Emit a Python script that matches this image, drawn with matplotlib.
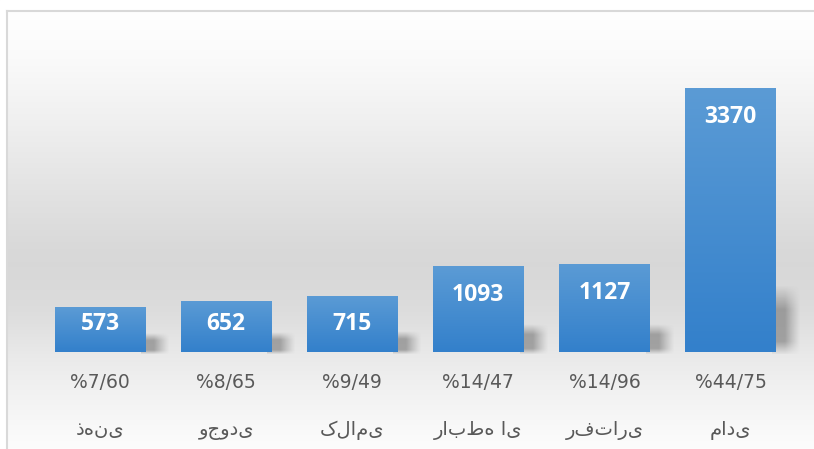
import numpy as np
import matplotlib
matplotlib.use("Agg")
import matplotlib.pyplot as plt
from matplotlib.patches import Rectangle

# ---- data ----
categories = ["ذهنی", "وجودی", "کلامی", "رابطه ای", "رفتاری", "مادی"]
percent_labels = ["%7/60", "%8/65", "%9/49", "%14/47", "%14/96", "%44/75"]
values = [573, 652, 715, 1093, 1127, 3370]

W, H = 814, 449
DPI = 100
fig = plt.figure(figsize=(W / DPI, H / DPI), dpi=DPI)

# ---- background gradient (whole figure) ----
bg = fig.add_axes([0, 0, 1, 1], zorder=0)
bg.set_xlim(0, W)
bg.set_ylim(H, 0)
bg.axis("off")
ys = np.arange(H)
stops_y = [0, 10, 60, 120, 200, 260, 310, 360, 449]
stops_v = [255, 255, 250, 240, 225, 215, 220, 235, 253]
col = np.interp(ys, stops_y, stops_v)
k = np.ones(31) / 31
col = np.convolve(np.pad(col, 15, mode="edge"), k, mode="valid") / 255.0
grad = np.repeat(col[:, None], 2, axis=1)
bg.imshow(np.dstack([grad, grad, grad]), extent=[0, W, H, 0], aspect="auto",
          interpolation="bilinear")
# white outside the frame
bg.add_patch(Rectangle((0, 0), W, 10, color="white", zorder=2))
bg.add_patch(Rectangle((0, 0), 6, H, color="white", zorder=2))
bg.plot([6.5, 6.5], [H, 10.5], color="#d9d9d9", lw=1.5, zorder=3)
bg.plot([6.5, W], [10.5, 10.5], color="#d9d9d9", lw=1.5, zorder=3)

# ---- main axes ----
px_per_unit = 264 / 3370.0
ax_left, ax_right = 37 / W, 793.5 / W
ax_bottom, ax_top = (H - 352) / H, (H - 10) / H
ax = fig.add_axes([ax_left, ax_bottom, ax_right - ax_left, ax_top - ax_bottom], zorder=1)
ax.patch.set_alpha(0)
x = np.arange(len(values))
ax.set_xlim(-0.5, len(values) - 0.5)
ax.set_ylim(0, (352 - 10) / px_per_unit)
for s in ax.spines.values():
    s.set_visible(False)
ax.set_yticks([])
ax.set_xticks(x)
ax.set_xticklabels([])
ax.tick_params(axis="x", length=0)

bar_w = 0.714
bars = ax.bar(x, values, width=bar_w, color="#3f87cf", zorder=3)

# shadows
sh_w = 0.2
for b in bars:
    x0 = b.get_x() + b.get_width()
    h = b.get_height()
    sh_h = 0.22 * h + 110
    ny, nx = 80, 40
    yy = np.linspace(0, 1, ny)[:, None]
    xx = np.linspace(0, 1, nx)[None, :]
    ay = np.clip((1 - yy) / 0.35, 0, 1) * np.clip((yy + 0.02) / 0.2, 0, 1)
    axx = np.clip((1 - xx) / 0.55, 0, 1) ** 1.2
    alpha = 0.45 * ay * axx
    rgba = np.zeros((ny, nx, 4))
    rgba[..., :3] = 0.3
    rgba[..., 3] = alpha
    ax.imshow(rgba, extent=[x0 - 0.03, x0 + sh_w, -20, sh_h], origin="lower",
              aspect="auto", interpolation="bilinear", zorder=2, clip_on=False)

# bar gradient
for b in bars:
    x0, w, h = b.get_x(), b.get_width(), b.get_height()
    g = np.linspace(0, 1, 100)[:, None]
    top = np.array([0x5b, 0x9b, 0xd5]) / 255.0
    bot = np.array([0x33, 0x80, 0xcb]) / 255.0
    img = bot[None, None, :] * (1 - g[..., None]) + top[None, None, :] * g[..., None]
    img = np.repeat(img, 2, axis=1)
    im = ax.imshow(img, extent=[x0, x0 + w, 0, h], origin="lower", aspect="auto",
                   interpolation="bilinear", zorder=4)
    im.set_clip_path(b)

# value labels
for xi, v in zip(x, values):
    yc = max(v - 29 / px_per_unit, 28 / px_per_unit)
    ax.text(xi, yc, f"{v}", ha="center", va="center", color="white",
            fontsize=16.5, fontweight="bold", family="Open Sans", zorder=5)

# category labels
for xi, p, c in zip(x, percent_labels, categories):
    ax.annotate(p, xy=(xi, 0), xycoords=("data", "axes fraction"),
                xytext=(0, -30), textcoords="offset pixels",
                ha="center", va="center", fontsize=13.5, color="#595959",
                family="DejaVu Sans", annotation_clip=False)
    ax.annotate(c, xy=(xi, 0), xycoords=("data", "axes fraction"),
                xytext=(0, -78), textcoords="offset pixels",
                ha="center", va="center", fontsize=14, color="#595959",
                family="DejaVu Sans", annotation_clip=False)

fig.savefig("out.png", dpi=DPI)
